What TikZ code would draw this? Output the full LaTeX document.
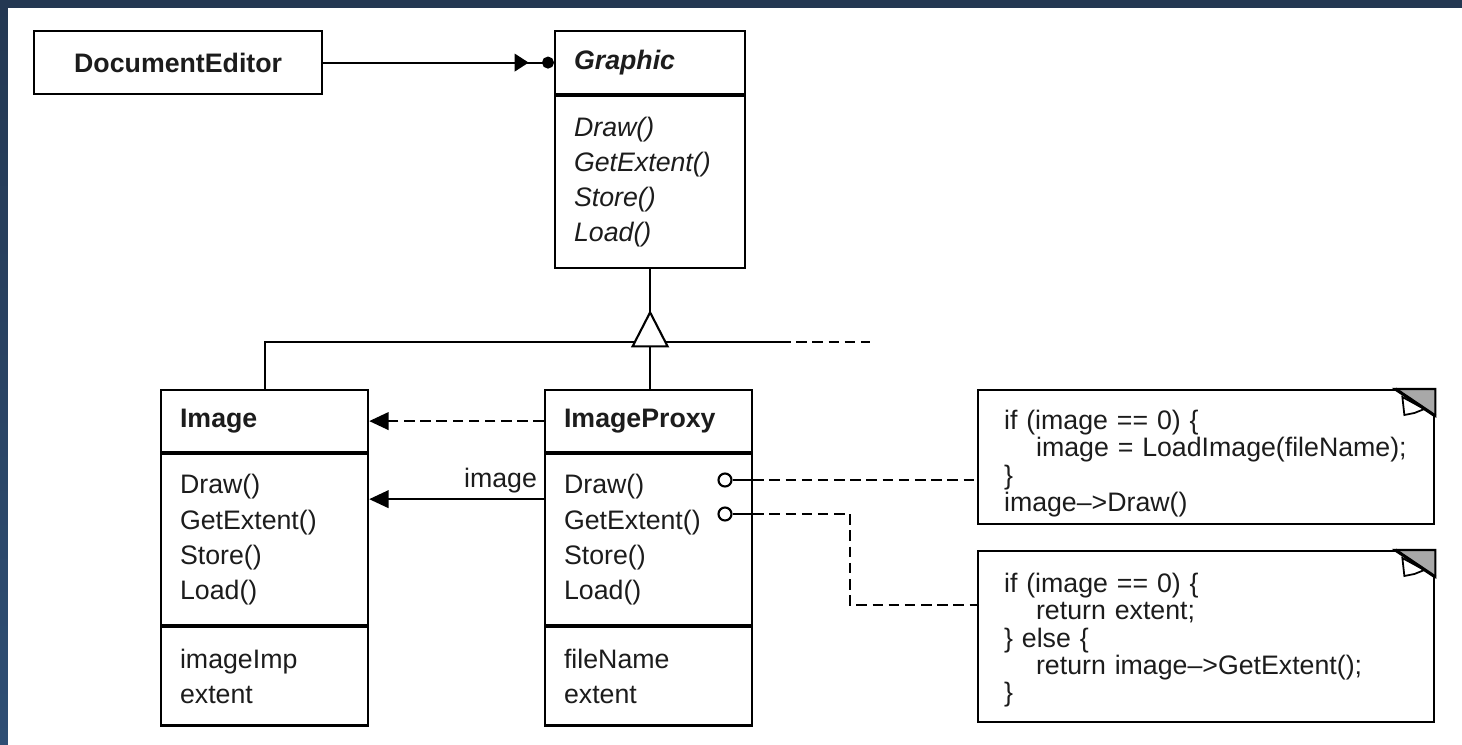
\documentclass[tikz,border=0pt]{standalone}
\usepackage{fontspec}
\setmainfont{Liberation Sans}
\usetikzlibrary{arrows.meta,calc}

\definecolor{frame}{RGB}{36,56,82}
\definecolor{framelow}{RGB}{46,78,116}
\definecolor{ink}{RGB}{28,28,28}
\definecolor{fold}{RGB}{168,168,168}
\newcommand\umlsize{\fontsize{7.6}{10}\selectfont}
\newcommand\notesize{\fontsize{7.6}{7.8}\selectfont}

\begin{document}
\begin{tikzpicture}[x=0.01cm, y=-0.01cm, line width=0.6pt,
    every node/.style={font=\umlsize, text=ink},
    part/.style={draw, rectangle, anchor=north west, align=left, inner xsep=0.19cm, inner ysep=0pt},
    note/.style={draw, rectangle, anchor=north west, align=left, inner xsep=0.26cm, inner ysep=0pt, font=\notesize, text width=4.04cm},
    dashline/.style={dash pattern=on 3pt off 1.6pt},
    head/.style={-{Triangle[length=5.5pt, width=5pt]}},
    lolli/.style={draw, circle, fill=white, minimum size=0.13cm, inner sep=0pt}]

    \useasboundingbox (0,0) rectangle (1462,744);
    \fill[frame] (0,0) rectangle (1462,744);
    \shade[top color=frame, bottom color=framelow] (0,0) rectangle (8,744);
    \fill[white] (8,8) rectangle (1462,744);

    \node[part, align=center, minimum width=2.88cm, minimum height=0.63cm] (editor) at (33,30) {\bfseries DocumentEditor};

    \node[part, text width=1.52cm, minimum height=0.63cm] (gfxT) at (554,30) {\bfseries\itshape Graphic};
    \node[part, text width=1.52cm, minimum height=1.72cm, font=\umlsize\itshape] (gfxM) at (gfxT.south west) {Draw()\\GetExtent()\\Store()\\Load()};

    \draw[-{Triangle[length=4pt, width=5pt, sep=3.8pt] Circle[length=3.4pt]}] (editor.east) -- (gfxT.west);

    %%%%%%%%%%%%%%%%%%%%
    \node[part, text width=1.69cm, minimum height=0.62cm] (imgT) at (160,389) {\bfseries Image};
    \node[part, text width=1.69cm, minimum height=1.71cm] (imgM) at (imgT.south west) {Draw()\\GetExtent()\\Store()\\Load()};
    \node[part, text width=1.69cm, minimum height=0.98cm] (imgA) at (imgM.south west) {imageImp\\extent};

    \node[part, text width=1.69cm, minimum height=0.62cm] (proxyT) at (544,389) {\bfseries ImageProxy};
    \node[part, text width=1.69cm, minimum height=1.71cm] (proxyM) at (proxyT.south west) {Draw()\\GetExtent()\\Store()\\Load()};
    \node[part, text width=1.69cm, minimum height=0.98cm] (proxyA) at (proxyM.south west) {fileName\\extent};

    % inheritance
    \coordinate (apex) at ($(gfxM.south)+(0,43)$);
    \coordinate (split) at ($(gfxM.south)+(0,77)$);
    \coordinate (solidend) at (780,342);
    \coordinate (dashend) at (870,342);
    \draw (gfxM.south) -- (apex);
    \draw (imgT.north) |- (solidend);
    \draw[dashline] (solidend) -- (dashend);
    \draw (split) -- (split |- proxyT.north);
    \filldraw[fill=white] (apex) -- ($(split)+(-17.5,0)$) -- ($(split)+(17.5,0)$) -- cycle;

    \draw[dashline, head] (proxyT.west) -- (imgT.east);
    \draw[head] ($(proxyM.north west)+(0,46)$) -- ($(imgM.north east)+(0,46)$)
        node[pos=0, anchor=south east, inner xsep=0.06cm, inner ysep=0.05cm] (lblimage) {image};

    %%%%%%%%%%%%%%%%%%%%
    \node[note, minimum height=1.34cm] (noteDraw) at (977,389) {\rule{0pt}{9.2pt}if (image == 0) \{\\\hspace*{0.32cm}image = LoadImage(fileName);\\\}\\image-->Draw()};
    \node[note, minimum height=1.71cm] (noteExt) at (977,550) {\rule{0pt}{7.5pt}if (image == 0) \{\\\hspace*{0.32cm}return extent;\\\} else \{\\\hspace*{0.32cm}return image-->GetExtent();\\\}};

    \foreach \n in {noteDraw, noteExt} {
        \filldraw[fill=fold] ($(\n.north east)+(-40,0)$) -- (\n.north east) -- ($(\n.north east)+(0,27)$) -- cycle;
        \filldraw[fill=white, line width=0.5pt] ($(\n.north east)+(-33,8)$) -- ($(\n.north east)+(-31,26)$) -- ($(\n.north east)+(-21,24)$) -- ($(\n.north east)+(-11,20)$) -- cycle;
        \draw[line width=0.9pt] ($(\n.north east)+(-40,0)$) -- ($(\n.north east)+(0,27)$);
    }

    \node[lolli] (lpDraw) at (725,480) {};
    \node[lolli] (lpExt) at (725,514) {};
    \coordinate (bend) at (850,605);
    \draw (lpDraw) -- (lpDraw -| proxyM.east);
    \draw[dashline] (lpDraw -| proxyM.east) -- (lpDraw -| noteDraw.west);
    \draw (lpExt) -- (lpExt -| proxyM.east);
    \draw[dashline] (lpExt -| proxyM.east) -| (bend) -- (bend -| noteExt.west);
\end{tikzpicture}
\end{document}
